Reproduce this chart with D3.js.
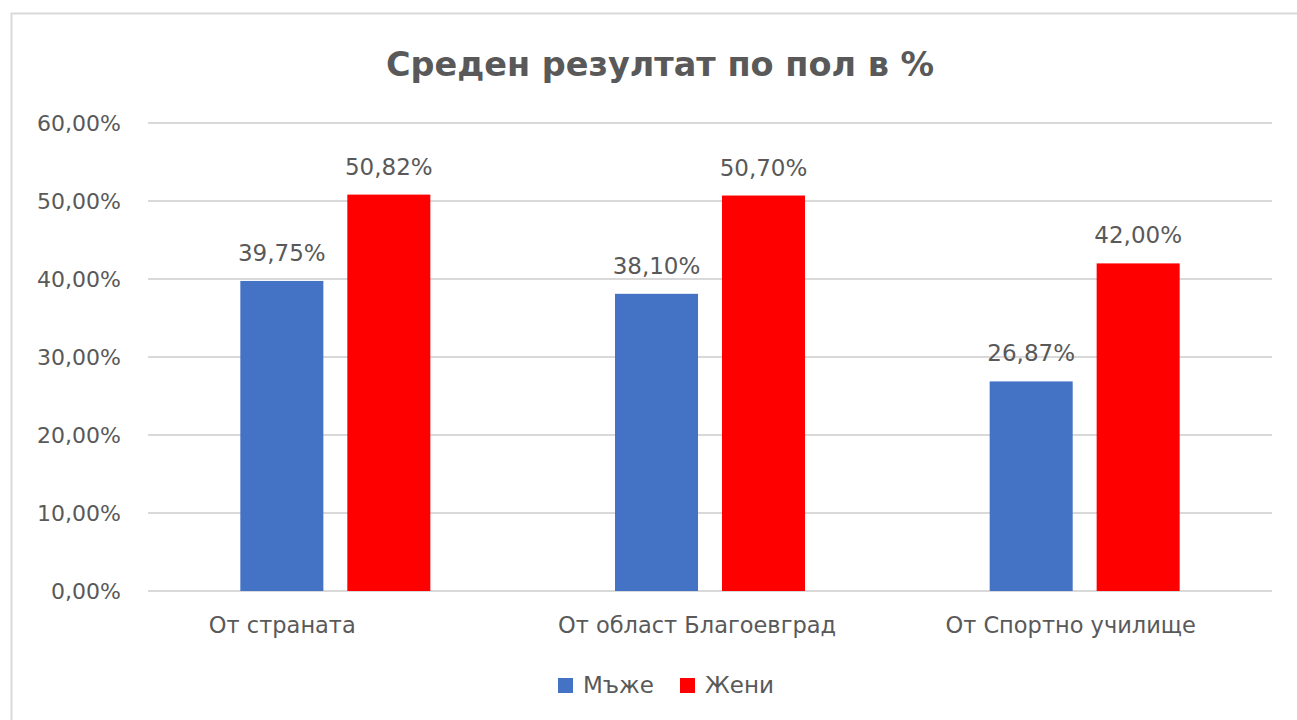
<!DOCTYPE html>
<html><head><meta charset="utf-8">
<script src="https://cdn.jsdelivr.net/npm/d3@7"></script>
<style>body{margin:0;background:#fff;}svg{display:block;}text{font-family:"DejaVu Sans",sans-serif;fill:#595959;}</style>
</head><body>
<svg id="c" width="1297" height="720"></svg>
<script>
const title = "Среден резултат по пол в %";
const categories = ["От страната", "От област Благоевград", "От Спортно училище"];
const series = ["Мъже", "Жени"];
const colors = ["#4472C4", "#FF0000"];
const men = [39.75, 38.10, 26.87];
const women = [50.82, 50.70, 42.00];
const yTicks = [0, 10, 20, 30, 40, 50, 60];

const values = [men, women];
const labelShift = [-53, -13, -14];
const svg = d3.select("#c");
svg.append("rect").attr("x", 11.5).attr("y", 13.5).attr("width", 1300).attr("height", 720)
  .attr("fill", "#fff").attr("stroke", "#d9d9d9").attr("stroke-width", 2);

const pLeft = 148, pRight = 1272, pTop = 123, pBottom = 591;
const x0 = d3.scaleBand().domain(categories).range([pLeft, pRight]);
const step = x0.bandwidth();
const x1 = d3.scaleBand().domain(series).range([(step - 190) / 2, (step + 190) / 2]).paddingInner(0.224);
const y = d3.scaleLinear().domain([0, 60]).range([pBottom, pTop]);
const fmt = v => v.toFixed(2).replace(".", ",") + "%";

// gridlines
svg.append("g").selectAll("line").data(yTicks).join("line")
  .attr("x1", pLeft).attr("x2", pRight).attr("y1", d => y(d)).attr("y2", d => y(d))
  .attr("stroke", "#d9d9d9").attr("stroke-width", 2);

// y labels
svg.append("g").selectAll("text").data(yTicks).join("text")
  .attr("x", 121).attr("y", d => y(d)).attr("dy", "0.36em").attr("text-anchor", "end")
  .attr("font-size", 22).text(d => fmt(d));

// bars
const g = svg.append("g").selectAll("g").data(categories).join("g")
  .attr("transform", c => `translate(${x0(c)},0)`);
series.forEach((s, si) => {
  g.append("rect").attr("x", x1(s)).attr("width", x1.bandwidth())
    .attr("y", (c, ci) => y(values[si][ci])).attr("height", (c, ci) => pBottom - y(values[si][ci]))
    .attr("fill", colors[si]);
  g.append("text").attr("x", x1(s) + x1.bandwidth() / 2).attr("y", (c, ci) => y(values[si][ci]) - 20)
    .attr("text-anchor", "middle").attr("font-size", 23).text((c, ci) => fmt(values[si][ci]));
});

// category labels
svg.append("g").selectAll("text").data(categories).join("text")
  .attr("x", (c, i) => x0(c) + step / 2 + labelShift[i]).attr("y", 633).attr("text-anchor", "middle")
  .attr("font-size", 22.5).text(c => c);

// title
svg.append("text").attr("x", 660).attr("y", 76).attr("text-anchor", "middle")
  .attr("font-size", 33.5).attr("font-weight", "bold").text(title);

// legend
const leg = svg.append("g").attr("transform", "translate(558,685)");
const li = leg.selectAll("g").data(series).join("g").attr("transform", (d, i) => `translate(${i * 122},0)`);
li.append("rect").attr("x", 0).attr("y", -7).attr("width", 15).attr("height", 15).attr("fill", (d, i) => colors[i]);
li.append("text").attr("x", 25).attr("y", 0).attr("dy", "0.36em").attr("font-size", 23).text(d => d);
</script>
</body></html>
